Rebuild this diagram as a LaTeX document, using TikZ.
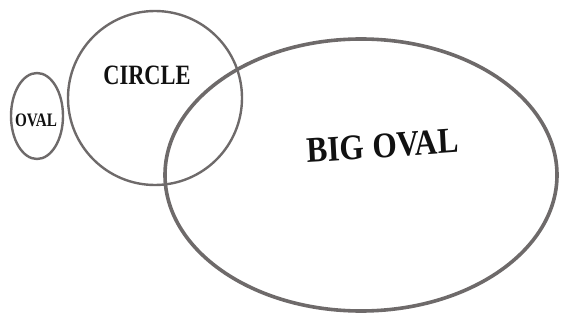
\documentclass[tikz,border=0pt]{standalone}
\usepackage{fontspec}
\setmainfont{Liberation Serif}
\usepackage{tikz}
\usetikzlibrary{positioning}
\definecolor{Pencil}{HTML}{6E6A6A}
\definecolor{Ink}{HTML}{111111}

\begin{document}
\begin{tikzpicture}[x=1pt,y=-1pt]
    \useasboundingbox (0,0) rectangle (563,321);

    \draw[Pencil,line width=2.4pt] (37,116) ellipse [x radius=26, y radius=43];
    \draw[Pencil,line width=2.4pt] (155,98) circle [radius=87];
    \draw[Pencil,line width=3.6pt] (361,175) ellipse [x radius=196, y radius=136];

    \node[text=Ink,font=\fontsize{19}{22}\selectfont\bfseries,xscale=0.8] (ovaltext) at (36,120) {OVAL};
    \node[text=Ink,font=\fontsize{28}{33}\selectfont\bfseries,xscale=0.8] (circletext) at (147,75) {CIRCLE};
    \node[text=Ink,font=\fontsize{36}{42}\selectfont\bfseries,xscale=0.87,rotate=3.5] (bigovaltext) at (383,146) {BIG OVAL};
  \end{tikzpicture}
\end{document}
